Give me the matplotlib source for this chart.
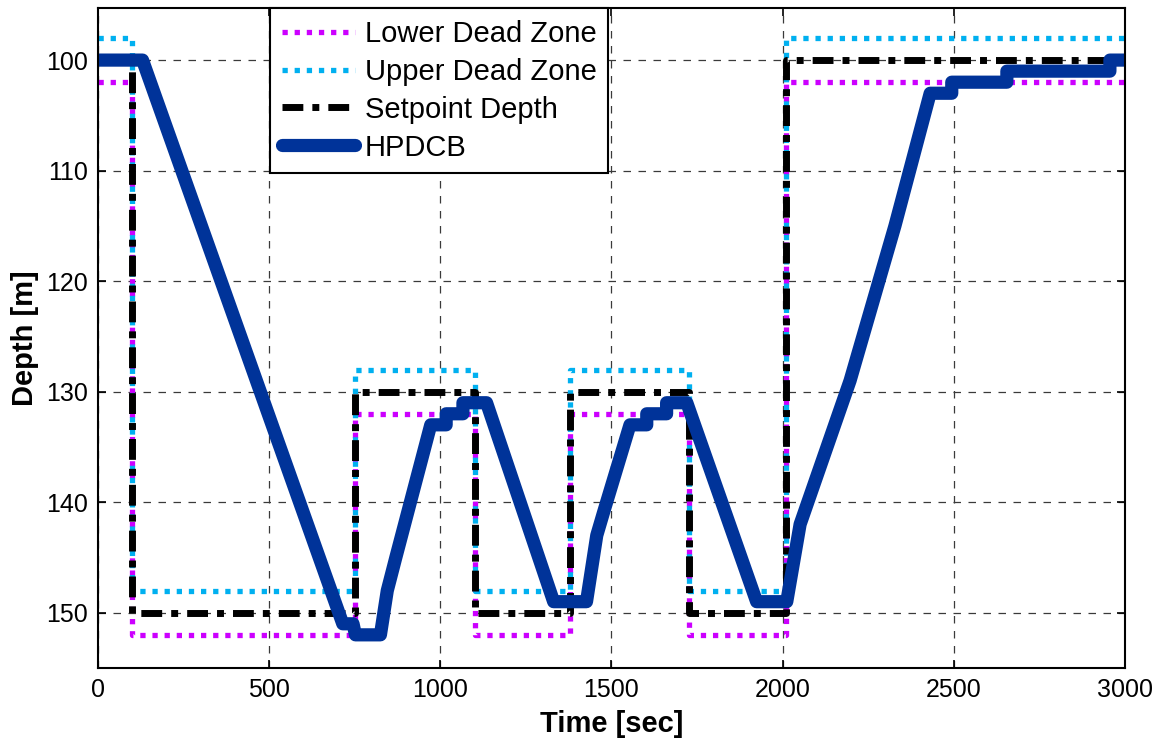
import matplotlib
matplotlib.use("Agg")
import matplotlib.pyplot as plt

plt.rcParams['font.family'] = ['Liberation Sans', 'DejaVu Sans']

# Setpoint schedule (switch times in seconds, depth in metres)
setpoint_t = [0, 100, 750, 1100, 1380, 1727, 2010, 3000]
setpoint_depth = [100, 150, 130, 150, 130, 150, 100, 100]
upper_zone = [98, 148, 128, 148, 128, 148, 98, 98]
lower_zone = [102, 152, 132, 152, 132, 152, 102, 102]

# Vehicle depth response under the HPDCB controller
hpdcb_t = [0, 130, 715, 745, 752, 825, 845, 870, 972, 1017, 1017, 1066, 1066, 1135,
           1331, 1427, 1457, 1476, 1554, 1603, 1603, 1661, 1661, 1720, 1924, 2012,
           2051, 2197, 2328, 2431, 2494, 2494, 2655, 2655, 2956, 2956, 3000]
hpdcb_depth = [100, 100, 151, 151, 152, 152, 148, 145, 133, 133, 132, 132, 131, 131,
               149, 149, 143, 141, 133, 133, 132, 132, 131, 131, 149, 149,
               142, 129, 115, 103, 103, 102, 102, 101, 101, 100, 100]

x_ticks = [0, 500, 1000, 1500, 2000, 2500, 3000]
y_ticks = [100, 110, 120, 130, 140, 150]

fig = plt.figure(figsize=(11.6, 7.4), dpi=100)
ax = fig.add_axes([0.0845, 0.0973, 0.9698 - 0.0845, 0.989 - 0.0973])

ax.plot(setpoint_t, lower_zone, drawstyle='steps-post', color='#CC00FF',
        lw=3.8, linestyle=(0, (1.0, 1.3)), dash_capstyle='butt',
        label='Lower Dead Zone')
ax.plot(setpoint_t, upper_zone, drawstyle='steps-post', color='#00B0F0',
        lw=3.8, linestyle=(0, (1.0, 1.3)), dash_capstyle='butt',
        label='Upper Dead Zone')
ax.plot(setpoint_t, setpoint_depth, drawstyle='steps-post', color='black',
        lw=5.0, linestyle=(0, (3.0, 1.3, 1.0, 1.3)), dash_capstyle='butt',
        label='Setpoint Depth')
ax.plot(hpdcb_t, hpdcb_depth, color='#003399', lw=9.5,
        solid_capstyle='round', solid_joinstyle='round', label='HPDCB')

ax.set_xlim(0, 3000)
ax.set_ylim(155, 95.3)
ax.set_xticks(x_ticks)
ax.set_yticks(y_ticks)
ax.grid(True, color='#3a3a3a', lw=0.9, linestyle=(0, (6, 6)))
ax.set_axisbelow(True)

ax.tick_params(direction='in', length=6, width=1.2, top=True, right=True,
               labelsize=18, pad=7)
for s in ax.spines.values():
    s.set_linewidth(1.5)

ax.set_xlabel('Time [sec]', fontsize=21, fontweight='bold', labelpad=6)
ax.set_ylabel('Depth [m]', fontsize=21, fontweight='bold', labelpad=5)

leg = ax.legend(loc='upper left', bbox_to_anchor=(0.1675, 1.0), fontsize=21,
                frameon=True, fancybox=False, handlelength=2.5,
                handletextpad=0.35, labelspacing=0.34, borderpad=0.4,
                borderaxespad=0.0)
leg.get_frame().set_edgecolor('black')
leg.get_frame().set_linewidth(1.5)
leg.get_frame().set_alpha(1.0)

fig.savefig('out.png', dpi=100)
